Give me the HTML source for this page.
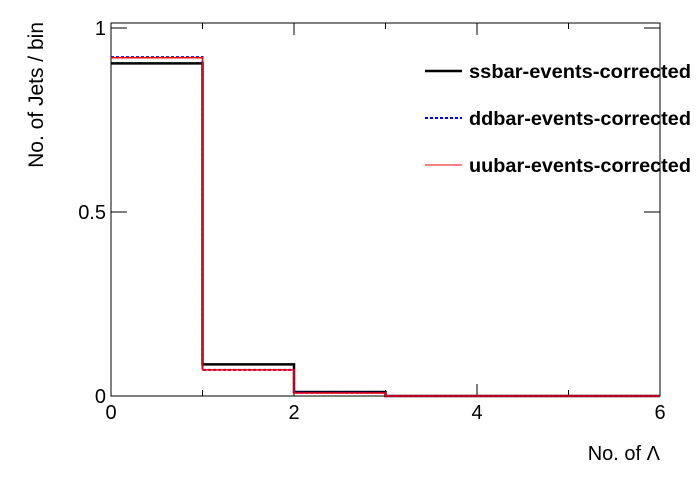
<!DOCTYPE html>
<html><head><meta charset="utf-8"><style>
body{margin:0;background:#fff}
svg text{font-family:"Liberation Sans",sans-serif}
</style></head><body>
<svg id="c" width="696" height="472" xmlns="http://www.w3.org/2000/svg">
<rect width="696" height="472" fill="#fff"/>
</svg>
<script>
const binEdges=[0,1,2,3,4,5,6];
const ssbar=[0.904,0.086,0.011,0,0,0];
const ddbar=[0.921,0.071,0.009,0,0,0];
const uubar=[0.919,0.071,0.008,0,0,0];
const xTicks=[0,2,4,6];
const yTicks=[0,0.5,1];
const yTickLabels=["0","0.5","1"];
const legendLabels=["ssbar-events-corrected","ddbar-events-corrected","uubar-events-corrected"];
const svg=document.getElementById('c');
const NS="http://www.w3.org/2000/svg";
const X0=111,X1=660,Y0=396,YT=23;
const sx=v=>X0+(v-0)/6*(X1-X0);
const sy=v=>Y0-v*368;
function mk(t,a){const e=document.createElementNS(NS,t);for(const k in a)e.setAttribute(k,a[k]);svg.appendChild(e);return e;}
let f=mk('rect',{x:X0,y:YT,width:X1-X0,height:Y0-YT,fill:'none',stroke:'#000','stroke-width':1});


for(let i=0;i<=6;i++){const L=(i%2==0)?12:6;const x=sx(i);
 let t=mk('line',{x1:x,x2:x,y1:Y0,y2:Y0-L,stroke:'#000'});
 let t2=mk('line',{x1:x,x2:x,y1:YT,y2:YT+L,stroke:'#000'});}
yTicks.forEach(v=>{const L=16;const y=sy(v);
 let t=mk('line',{x1:X0,x2:X0+L,y1:y,y2:y,stroke:'#000'});
 let t2=mk('line',{x1:X1,x2:X1-L,y1:y,y2:y,stroke:'#000'});});
xTicks.forEach(v=>{let t=mk('text',{x:sx(v),y:419,'font-size':20,'text-anchor':'middle'});t.textContent=v;});
yTicks.forEach((v,i)=>{let t=mk('text',{x:106,y:sy(v)+7,'font-size':20,'text-anchor':'end'});t.textContent=yTickLabels[i];});
function hist(vals,style,name){let d='';for(let i=0;i<vals.length;i++){const y=sy(vals[i]);d+=(i==0?'M'+sx(binEdges[0])+' '+y:'L'+sx(binEdges[i])+' '+y)+' L'+sx(binEdges[i+1])+' '+y+' ';}
 const p=mk('path',Object.assign({d:d,fill:'none'},style));}
hist(ssbar,{stroke:'#000','stroke-width':2.5},'ssbar-histogram');
hist(ddbar,{stroke:'#00f','stroke-width':2,'stroke-dasharray':'3,2'},'ddbar-histogram');
hist(uubar,{stroke:'#f00','stroke-width':1.5},'uubar-histogram');
const ly=[71,118,165],ls=[{stroke:'#000','stroke-width':2.5},{stroke:'#00f','stroke-width':2,'stroke-dasharray':'3,2'},{stroke:'#f00','stroke-width':1}];
legendLabels.forEach((s,i)=>{let l=mk('line',Object.assign({x1:425,x2:462,y1:ly[i],y2:ly[i]},ls[i]));
 let t=mk('text',{x:469,y:ly[i]+7,'font-size':19,'font-weight':'bold',textLength:222,lengthAdjust:'spacingAndGlyphs'});t.textContent=s;});
let yt=mk('text',{x:0,y:0,'font-size':21,'text-anchor':'end',transform:'translate(43,22) rotate(-90)'});yt.textContent='No. of Jets / bin';
let xt=mk('text',{x:660,y:460,'font-size':20,'text-anchor':'end'});xt.textContent='No. of Λ';
</script>
</body></html>
